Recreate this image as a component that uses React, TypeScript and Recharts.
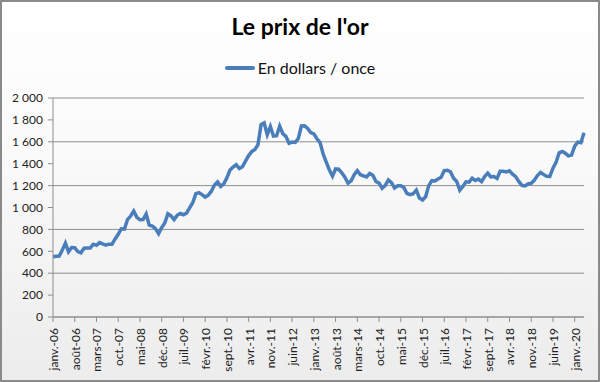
import React from 'react';
import { LineChart, Line, XAxis, YAxis, CartesianGrid } from 'recharts';

// Monthly gold price (USD / ounce), Jan 2006 -> Apr 2020
const PRICES_2006 = [550, 555, 557, 611, 675, 596, 634, 633, 598, 586, 628, 630];
const PRICES_2007 = [631, 665, 655, 679, 667, 656, 665, 665, 713, 755, 806, 803];
const PRICES_2008 = [890, 922, 968, 910, 889, 890, 940, 839, 830, 807, 761, 816];
const PRICES_2009 = [859, 943, 924, 890, 929, 946, 934, 949, 997, 1043, 1127, 1135];
const PRICES_2010 = [1118, 1095, 1113, 1149, 1205, 1233, 1193, 1216, 1271, 1342, 1370, 1391];
const PRICES_2011 = [1356, 1373, 1424, 1474, 1510, 1529, 1573, 1756, 1772, 1665, 1739, 1652];
const PRICES_2012 = [1656, 1743, 1674, 1650, 1586, 1597, 1594, 1630, 1745, 1747, 1722, 1685];
const PRICES_2013 = [1672, 1628, 1593, 1488, 1414, 1343, 1286, 1352, 1349, 1317, 1276, 1222];
const PRICES_2014 = [1244, 1300, 1336, 1299, 1289, 1279, 1311, 1295, 1237, 1223, 1176, 1202];
const PRICES_2015 = [1252, 1227, 1179, 1199, 1199, 1182, 1128, 1118, 1125, 1159, 1086, 1068];
const PRICES_2016 = [1098, 1200, 1245, 1242, 1261, 1276, 1337, 1340, 1326, 1267, 1238, 1157];
const PRICES_2017 = [1192, 1234, 1231, 1267, 1246, 1260, 1237, 1283, 1314, 1280, 1282, 1265];
const PRICES_2018 = [1331, 1331, 1325, 1335, 1304, 1282, 1238, 1202, 1198, 1215, 1221, 1250];
const PRICES_2019 = [1292, 1320, 1301, 1286, 1284, 1359, 1413, 1500, 1511, 1495, 1471, 1479];
const PRICES_2020 = [1561, 1597, 1592, 1683];

const YEARS = ['06', '07', '08', '09', '10', '11', '12', '13', '14', '15', '16', '17', '18', '19', '20'];
const MONTHS = ['janv.', 'févr.', 'mars', 'avr.', 'mai', 'juin', 'juil.', 'août', 'sept.', 'oct.', 'nov.', 'déc.'];
const Y_TICKS = [0, 200, 400, 600, 800, 1000, 1200, 1400, 1600, 1800, 2000];

const PRICES_BY_YEAR = [
  PRICES_2006, PRICES_2007, PRICES_2008, PRICES_2009, PRICES_2010,
  PRICES_2011, PRICES_2012, PRICES_2013, PRICES_2014, PRICES_2015,
  PRICES_2016, PRICES_2017, PRICES_2018, PRICES_2019, PRICES_2020,
];

const data = PRICES_BY_YEAR.flatMap((prices, y) =>
  prices.map((price, m) => ({ label: `${MONTHS[m]}-${YEARS[y]}`, price }))
);

const FONT = 'Lato, "Liberation Sans", sans-serif';
const GRID = '#8e8e8e';
const BLUE = '#4a7ebb';

const formatThousands = (v: number) =>
  String(v).replace(/\B(?=(\d{3})+(?!\d))/g, ' ');

const RotatedTick = (props: any) => {
  const { x, y, payload } = props;
  return (
    <text
      x={x}
      y={y + 4}
      dy={5}
      transform={`rotate(-90, ${x}, ${y + 4})`}
      textAnchor="end"
      fontSize={12}
      fontFamily={FONT}
      fill="#222"
    >
      {payload.value}
    </text>
  );
};

const App: React.FC = () => (
  <div
    style={{
      position: 'absolute',
      left: 0,
      top: 0,
      width: 600,
      height: 382,
      background: 'linear-gradient(to bottom, #ffffff 0%, #fafafa 40%, #ececec 100%)',
      outline: '2px solid #8a8a8a',
      outlineOffset: -2,
    }}
  >
    <div
      style={{
        position: 'absolute',
        top: 12,
        width: 600,
        textAlign: 'center',
        fontFamily: FONT,
        fontWeight: 'bold',
        fontSize: 23,
        color: '#000',
      }}
    >
      Le prix de l'or
    </div>
    <div
      style={{
        position: 'absolute',
        top: 58,
        width: 600,
        display: 'flex',
        alignItems: 'center',
        justifyContent: 'center',
        fontFamily: FONT,
        fontSize: 16,
        color: '#111',
      }}
    >
      <span style={{ display: 'inline-block', width: 30, height: 4, background: BLUE, borderRadius: 2, marginRight: 3 }} />
      En dollars / once
    </div>
    <LineChart width={600} height={382} data={data} margin={{ top: 98, right: 16, bottom: 0, left: 8 }}>
      <CartesianGrid vertical={false} stroke={GRID} strokeWidth={1} />
      <XAxis
        dataKey="label"
        interval={6}
        height={65}
        tick={<RotatedTick />}
        tickSize={5}
        axisLine={{ stroke: GRID }}
        tickLine={{ stroke: GRID }}
      />
      <YAxis
        domain={[0, 2000]}
        ticks={Y_TICKS}
        width={45}
        tickSize={5}
        tickMargin={5}
        tickFormatter={formatThousands}
        axisLine={{ stroke: GRID }}
        tickLine={{ stroke: GRID }}
        tick={{ fontSize: 12, fontFamily: FONT, fill: '#222' }}
      />
      <Line
        type="linear"
        dataKey="price"
        stroke={BLUE}
        strokeWidth={3.5}
        dot={false}
        isAnimationActive={false}
      />
    </LineChart>
  </div>
);

export default App;
